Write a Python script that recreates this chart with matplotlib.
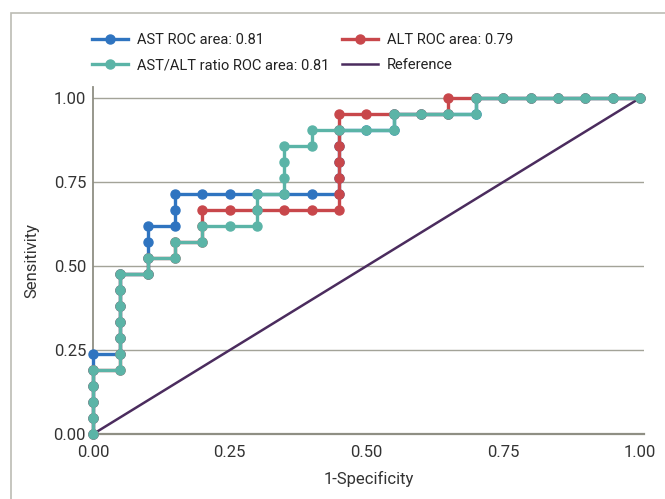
import matplotlib.pyplot as plt
from matplotlib.patches import Rectangle
import numpy as np

plt.rcParams['font.family'] = ['Roboto', 'DejaVu Sans']

n_neg = 20
n_pos = 21

# ROC steps as counts (false positives, true positives)
ratio_fp = [0, 0, 0, 0, 0, 1, 1, 1, 1, 1, 1, 1, 2, 2, 3, 3, 4, 4, 5, 6, 6, 6, 7, 7, 7, 7, 8, 8,
            9, 10, 11, 11, 12, 13, 14, 14, 15, 16, 17, 18, 19, 20]
ratio_tp = [0, 1, 2, 3, 4, 4, 5, 6, 7, 8, 9, 10, 10, 11, 11, 12, 12, 13, 13, 13, 14, 15, 15, 16,
            17, 18, 18, 19, 19, 19, 19, 20, 20, 20, 20, 21, 21, 21, 21, 21, 21, 21]

ast_fp = [0, 0, 0, 0, 0, 0, 1, 1, 1, 1, 1, 1, 2, 2, 2, 2, 3, 3, 3, 4, 5, 6, 7, 8, 9, 9, 9, 9, 9,
          10, 11, 11, 12, 13, 14, 14, 15, 16, 17, 18, 19, 20]
ast_tp = [0, 1, 2, 3, 4, 5, 5, 6, 7, 8, 9, 10, 10, 11, 12, 13, 13, 14, 15, 15, 15, 15, 15, 15,
          15, 16, 17, 18, 19, 19, 19, 20, 20, 20, 20, 21, 21, 21, 21, 21, 21, 21]

alt_fp = [0, 0, 0, 0, 0, 1, 1, 1, 1, 1, 1, 1, 2, 2, 3, 3, 4, 4, 4, 5, 6, 7, 8, 9, 9, 9, 9, 9, 9,
          9, 10, 11, 12, 13, 13, 14, 15, 16, 17, 18, 19, 20]
alt_tp = [0, 1, 2, 3, 4, 4, 5, 6, 7, 8, 9, 10, 10, 11, 11, 12, 12, 13, 14, 14, 14, 14, 14, 14,
          15, 16, 17, 18, 19, 20, 20, 20, 20, 20, 21, 21, 21, 21, 21, 21, 21, 21]

labels = ['AST ROC area: 0.81', 'ALT ROC area: 0.79', 'AST/ALT ratio ROC area: 0.81', 'Reference']
colors = ['#2f74c0', '#c8474b', '#5bb4a7', '#4b2c5e']

fig = plt.figure(figsize=(6.65, 4.99), dpi=100)
ax = fig.add_axes([0.1398, 0.130, 0.8282, 0.6957])

# figure frame
fig.patches.append(Rectangle((0.0158, -0.05), 1.1, 1.0235, transform=fig.transFigure,
                             fill=False, edgecolor='#bcbcb4', linewidth=1.2))

curves = [(ast_fp, ast_tp), (alt_fp, alt_tp), (ratio_fp, ratio_tp)]
handles = []
for (fp, tp), c, lab in zip(curves, colors[:3], labels[:3]):
    x = np.array(fp) / n_neg
    y = np.array(tp) / n_pos
    h, = ax.plot(x, y, color=c, lw=2.4, marker='o', ms=6.5, label=lab, clip_on=False, zorder=3)
    handles.append(h)
ref, = ax.plot([0, 1], [0, 1], color=colors[3], lw=1.8, label=labels[3], zorder=2)

ax.set_xlim(0, 1.007)
ax.set_ylim(0, 1.033)
ax.set_xticks([0, 0.25, 0.5, 0.75, 1.0])
ax.set_yticks([0, 0.25, 0.5, 0.75, 1.0])
ax.xaxis.set_major_formatter(plt.FormatStrFormatter('%.2f'))
ax.yaxis.set_major_formatter(plt.FormatStrFormatter('%.2f'))
ax.tick_params(length=0, labelsize=12, colors='#333333', pad=5)
ax.tick_params(axis='x', pad=8)

ax.grid(True, axis='y', color='#a3a398', linewidth=1.0)
ax.set_axisbelow(True)
for s in ['top', 'right']:
    ax.spines[s].set_visible(False)
ax.spines['left'].set_color('#8f8f84')
ax.spines['bottom'].set_color('#8f8f84')
ax.spines['left'].set_linewidth(1.3)
ax.spines['bottom'].set_linewidth(1.6)

ax.set_xlabel('1-Specificity', fontsize=12, color='#333333', labelpad=8)
ax.set_ylabel('Sensitivity', fontsize=12, color='#333333', labelpad=10)

fig.legend([handles[0], handles[2], handles[1], ref],
           [labels[0], labels[2], labels[1], labels[3]],
           ncol=2, loc='upper left', bbox_to_anchor=(0.138, 0.934), frameon=False,
           borderpad=0, borderaxespad=0,
           fontsize=10.5, handlelength=2.5, handletextpad=0.6, columnspacing=0.85,
           labelspacing=0.78, labelcolor='#222222')

plt.savefig('out.png', dpi=100)
